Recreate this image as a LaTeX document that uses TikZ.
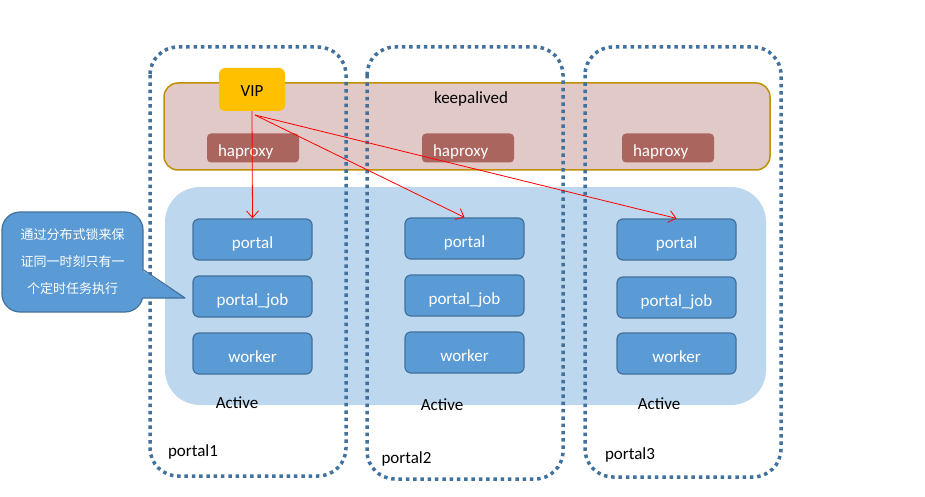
\documentclass[tikz,border=0pt]{standalone}
\usepackage{fontspec}
\setmainfont{Carlito}
\newfontfamily\cjk{Noto Sans CJK SC}
\usetikzlibrary{arrows.meta}
\definecolor{frameblue}{RGB}{65,113,156}
\definecolor{boxblue}{RGB}{91,155,213}
\definecolor{zoneblue}{RGB}{189,215,238}
\definecolor{kapink}{RGB}{224,201,199}
\definecolor{kagold}{RGB}{191,144,0}
\definecolor{hared}{RGB}{170,101,94}
\definecolor{vipyellow}{RGB}{255,192,0}
\tikzset{
  portalframe/.style={draw=frameblue, line width=3.5pt, dash pattern=on 3.5pt off 3.8pt, rounded corners=28pt},
  svcbox/.style={draw=frameblue, fill=boxblue, line width=1.2pt, rounded corners=6pt, minimum width=119pt, minimum height=41pt, text=white, inner sep=0pt, text height=17pt, text depth=0pt},
  habox/.style={fill=hared, rounded corners=4pt, minimum width=92pt, minimum height=29pt, text width=70pt, inner xsep=11pt, inner ysep=0pt, align=left, text=white, text height=17pt, text depth=0pt},
  vipbox/.style={fill=vipyellow, rounded corners=6pt, minimum width=66pt, minimum height=43pt, inner sep=0pt, text height=14pt, text depth=0pt},
  notebox/.style={draw=frameblue, fill=boxblue, line width=1.2pt, rounded corners=18pt, minimum width=141pt, minimum height=100pt, text=white, align=center, inner sep=0pt, font=\cjk\fontsize{13}{27}\selectfont},
  redarrow/.style={red, line width=0.8pt, -{Straight Barb[length=7pt,width=12pt]}},
  lbl/.style={inner sep=0pt}
}
\begin{document}
\begin{tikzpicture}[x=1pt, y=-1pt, font=\fontsize{17}{20}\selectfont, line join=round]
\useasboundingbox (0,0) rectangle (925,497);
% keepalived layer
\draw[kagold, fill=kapink, line width=1.5pt, rounded corners=14pt] (164,83) rectangle (770,170);
\node[lbl] (kp) at (471,99) {keepalived};
\foreach \n/\x in {1/253,2/468,3/668}{\node[habox] (ha\n) at (\x,148) {haproxy};}
% active zone
\fill[zoneblue, rounded corners=35pt] (165,187) rectangle (766,405);
\foreach \n/\x/\a/\b/\c in {1/252.5/239.5/296.5/353.5, 2/464.5/238.5/295.5/352.5, 3/676.5/239.5/297.5/353.5}{
  \node[svcbox] (p\n a) at (\x,\a) {portal};
  \node[svcbox] (p\n b) at (\x,\b) {portal\_job};
  \node[svcbox] (p\n c) at (\x,\c) {worker};
}
\foreach \x/\y in {237/403,442/405,659/404}{\node[lbl] at (\x,\y) {Active};}
% portal frames
\draw[portalframe] (150,47) rectangle (346,476);
\draw[portalframe] (367,47) rectangle (563,479);
\draw[portalframe] (585,47) rectangle (781,477);
\node[lbl] (pl1) at (193,452) {portal1};
\node[lbl] (pl2) at (406.5,459) {portal2};
\node[lbl] (pl3) at (630,455) {portal3};
\node[vipbox] (vip) at (252,89.5) {VIP};
% callout
\node[notebox] (note) at (72.5,262) {通过分布式锁来保\\证同一时刻只有一\\个定时任务执行};
\fill[boxblue] ([xshift=-2pt,yshift=-8pt]note.east) -- (185,298) -- ([xshift=-2pt,yshift=-36pt]note.east) -- cycle;
\draw[frameblue, line width=1.2pt] ([yshift=-8pt]note.east) -- (185,298) -- ([xshift=-1pt,yshift=-36pt]note.east);
% vip arrows
\coordinate (vipout) at (255,115);
\draw[redarrow] (vip.south) -- (p1a.north);
\draw[redarrow] (vipout) -- (p2a.north);
\draw[redarrow] (vipout) -- (p3a.north);
\end{tikzpicture}
\end{document}
